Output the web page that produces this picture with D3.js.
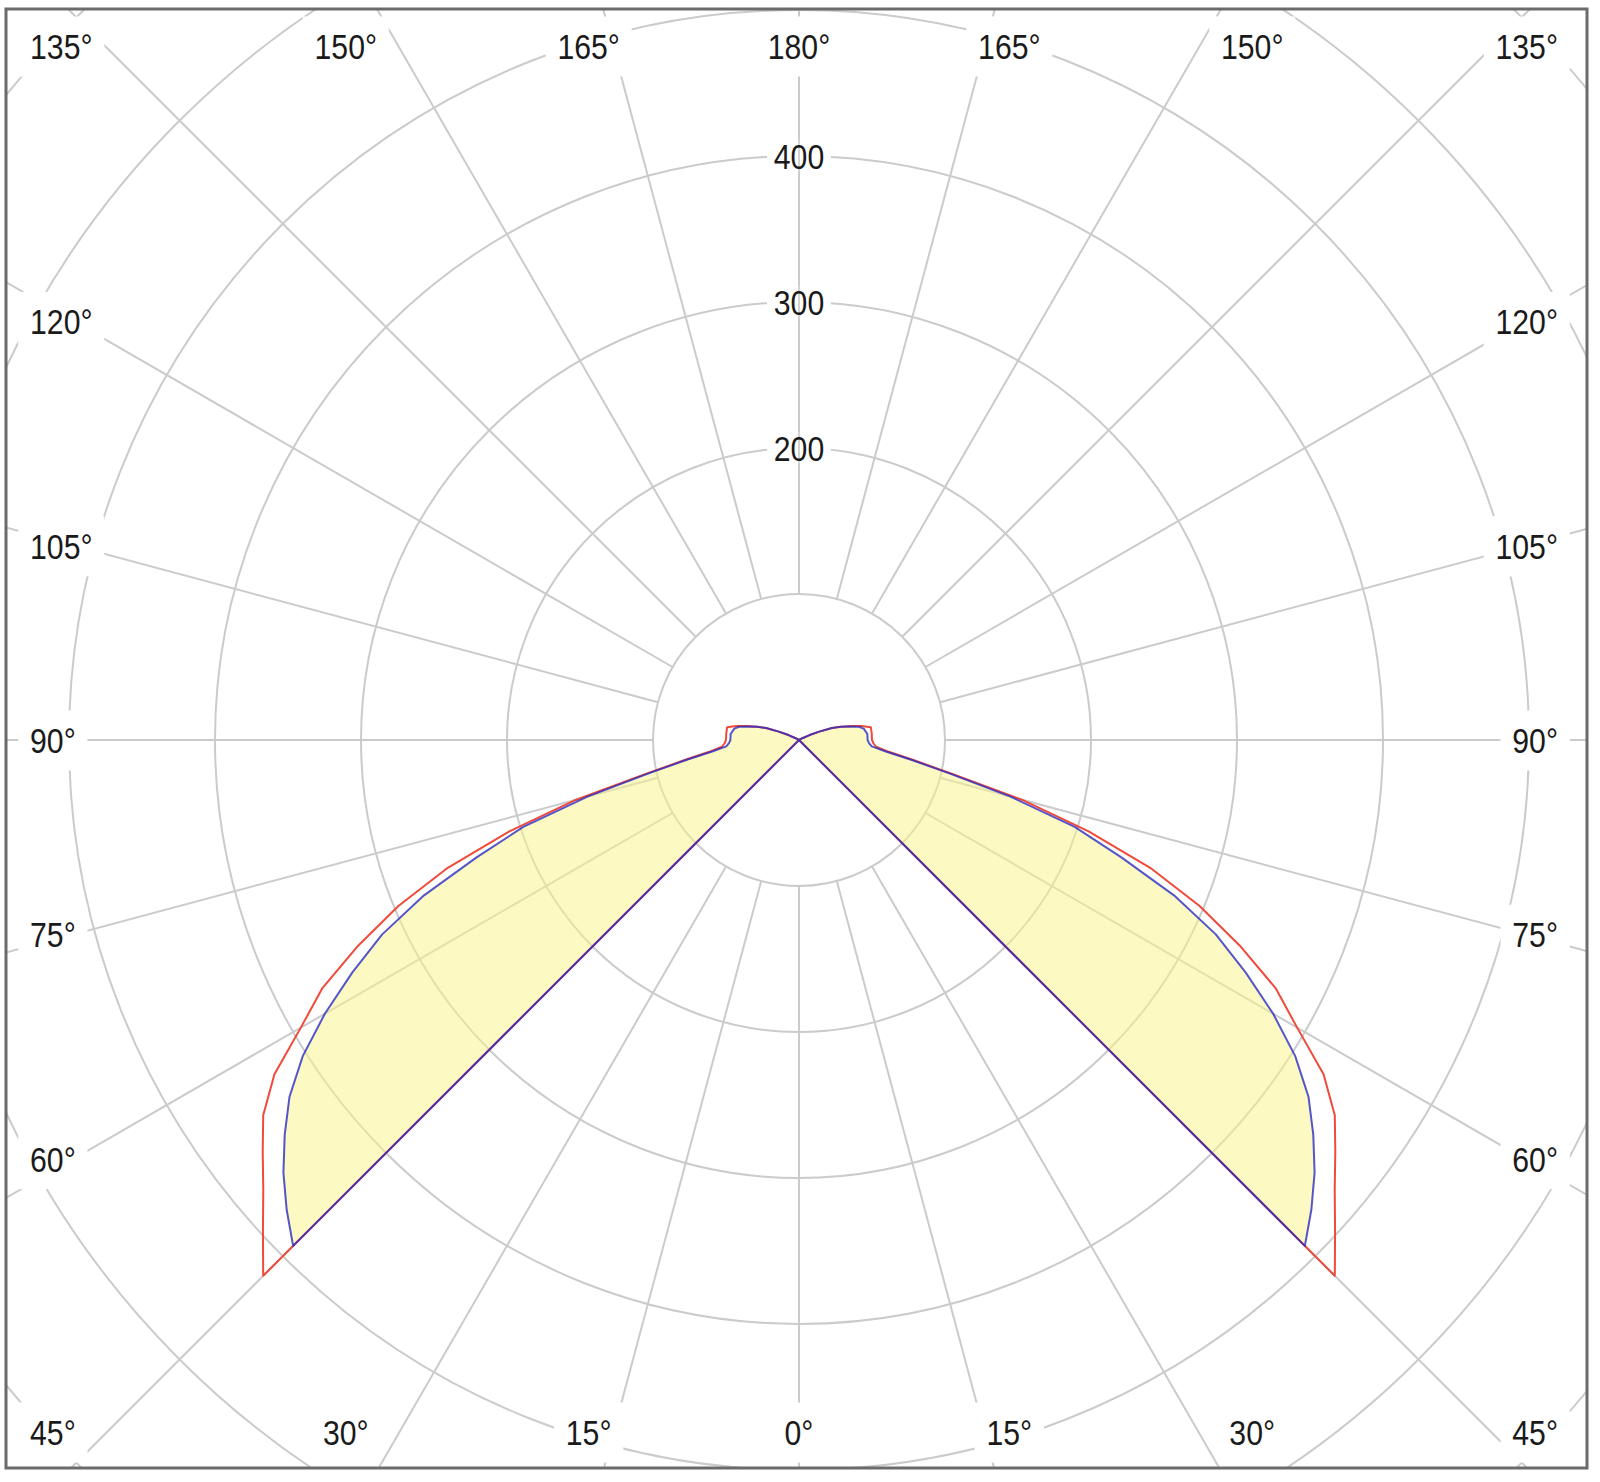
<!DOCTYPE html>
<html>
<head>
<meta charset="utf-8">
<script src="https://cdn.jsdelivr.net/npm/d3@7"></script>
<style>
  body { margin: 0; background: #fff; }
  svg { display: block; }
  text { font-family: "Liberation Sans", Arial, sans-serif; fill: #1a1a1a; }
</style>
</head>
<body>
<div id="chart"></div>
<script>
// gamma angles (deg, 0 = straight down) and intensities
var gammaAngles = [0, 15, 30, 40, 45, 47.5, 50, 52.5, 55, 57.5, 60, 62.5, 65, 67.5, 70, 72.5, 75, 77.5, 80, 82.5, 85, 87.5, 90, 95, 100, 102.5, 105, 107.5, 110, 112.5, 115, 117.5, 120, 135, 150, 165, 180];
var redValues = [0, 0, 0, 0, 519, 498, 479, 463, 448, 426, 394, 368, 333, 297, 256, 208, 158, 108, 80, 62, 53, 51, 50, 50, 50, 44, 37, 30, 24, 15, 8, 3, 0, 0, 0, 0, 0];
var blueValues = [0, 0, 0, 0, 490, 476, 461, 444, 426, 403, 375, 345, 315, 278, 235, 198, 150, 105, 78, 60, 50, 48, 47, 47, 45, 42, 36, 30, 24, 15, 8, 3, 0, 0, 0, 0, 0];

var ringValues = [100, 200, 300, 400, 500, 600, 700];
var ringLabels = [200, 300, 400];
var spokeAngles = d3.range(0, 360, 15);
var degreeLabels = [0, 15, 30, 45, 60, 75, 90, 105, 120, 135, 150, 165, 180];

var width = 1600, height = 1482;
var cx = 799, cy = 740;
var frame = {x: 6, y: 9, w: 1581, h: 1459};

var r = d3.scaleLinear().domain([0, 100]).range([0, 146]);

var svg = d3.select('#chart')
  .append('svg')
  .attr('width', width)
  .attr('height', height);

svg.append('rect')
  .attr('width', width)
  .attr('height', height)
  .attr('fill', '#fff');

svg.append('clipPath')
  .attr('id', 'frameclip')
  .append('rect')
  .attr('x', frame.x)
  .attr('y', frame.y)
  .attr('width', frame.w)
  .attr('height', frame.h);

var plot = svg.append('g').attr('clip-path', 'url(#frameclip)');
var g = plot.append('g').attr('transform', 'translate(' + cx + ',' + cy + ')');

// rings and spokes
g.selectAll('.ring')
  .data(ringValues)
  .enter()
  .append('circle')
  .attr('class', 'ring')
  .attr('r', function(d){ return r(d) })
  .attr('fill', 'none')
  .attr('stroke', '#cbcbcb')
  .attr('stroke-width', 2);

g.selectAll('.spoke')
  .data(spokeAngles)
  .enter()
  .append('line')
  .attr('class', 'spoke')
  .attr('x1', function(d){ return r(100) * Math.sin(d * Math.PI / 180) })
  .attr('y1', function(d){ return r(100) * Math.cos(d * Math.PI / 180) })
  .attr('x2', function(d){ return r(800) * Math.sin(d * Math.PI / 180) })
  .attr('y2', function(d){ return r(800) * Math.cos(d * Math.PI / 180) })
  .attr('stroke', '#cbcbcb')
  .attr('stroke-width', 2);

// one closed curve: right half gamma 0..180, then left half 180..0
function curvePoints(values){
  var pts = [];
  gammaAngles.forEach(function(a, i){ pts.push([Math.PI - a * Math.PI / 180, r(values[i])]) });
  for (var i = gammaAngles.length - 1; i >= 0; i--) {
    pts.push([Math.PI + gammaAngles[i] * Math.PI / 180, r(values[i])]);
  }
  return pts;
}

var radial = d3.lineRadial()
  .angle(function(d){ return d[0] })
  .radius(function(d){ return d[1] });

g.append('path')
  .datum(curvePoints(blueValues))
  .attr('d', radial)
  .attr('fill', '#faf48c')
  .attr('fill-opacity', 0.52)
  .attr('stroke', 'none');

// ring value labels on the vertical axis
var rl = g.selectAll('.rlabel')
  .data(ringLabels)
  .enter()
  .append('g')
  .attr('class', 'rlabel')
  .attr('transform', function(d){ return 'translate(0,' + (-r(d)) + ') scale(0.84,1)' });
rl.append('rect')
  .attr('x', -38)
  .attr('y', -16)
  .attr('width', 76)
  .attr('height', 32)
  .attr('fill', '#fff');
rl.append('line')
  .attr('y1', -17)
  .attr('y2', 17)
  .attr('stroke', '#cbcbcb')
  .attr('stroke-width', 2);
rl.append('text')
  .attr('text-anchor', 'middle')
  .attr('dy', '0.36em')
  .style('font-size', '36px')
  .text(function(d){ return d });

// angle labels pushed out along each spoke, then held inside the frame
var labelData = [];
degreeLabels.forEach(function(a){
  var sides = (a === 0 || a === 180) ? [1] : [-1, 1];
  sides.forEach(function(s){
    var sx = s * Math.sin(a * Math.PI / 180), sy = Math.cos(a * Math.PI / 180);
    var tSide = Math.abs(sx) > 1e-6 ? 725 / Math.abs(sx) : Infinity;
    var tEnd = Math.abs(sy) > 1e-6 ? 785 / Math.abs(sy) : Infinity;
    var d = {text: a + '°'};
    if (tSide <= tEnd) {
      d.x = s < 0 ? 30 : 1558;
      d.y = Math.max(46, Math.min(1432, cy + tSide * sy));
      d.anchor = s < 0 ? 'start' : 'end';
    } else {
      d.x = cx + tEnd * sx;
      d.y = sy < 0 ? 46 : 1432;
      d.anchor = 'middle';
    }
    labelData.push(d);
  });
});

var dl = plot.selectAll('.dlabel')
  .data(labelData)
  .enter()
  .append('g')
  .attr('class', 'dlabel')
  .attr('transform', function(d){ return 'translate(' + d.x + ',' + d.y + ') scale(0.84,1)' });
dl.append('text')
  .attr('text-anchor', function(d){ return d.anchor })
  .attr('dy', '0.36em')
  .style('font-size', '36px')
  .text(function(d){ return d.text });
dl.each(function(){
  var b = d3.select(this).select('text').node().getBBox();
  d3.select(this).insert('rect', 'text')
    .attr('x', b.x - 14)
    .attr('y', b.y - 10)
    .attr('width', b.width + 28)
    .attr('height', b.height + 20)
    .attr('fill', '#fff');
});

// intensity curves
g.append('path')
  .datum(curvePoints(redValues))
  .attr('d', radial)
  .attr('fill', 'none')
  .attr('stroke', '#ef4a3a')
  .attr('stroke-width', 2)
  .attr('stroke-linejoin', 'round');

g.append('path')
  .datum(curvePoints(blueValues))
  .attr('d', radial)
  .attr('fill', 'none')
  .attr('stroke', '#2a2ac4')
  .attr('stroke-opacity', 0.8)
  .attr('stroke-width', 2)
  .attr('stroke-linejoin', 'round');

// frame
svg.append('rect')
  .attr('x', frame.x)
  .attr('y', frame.y)
  .attr('width', frame.w)
  .attr('height', frame.h)
  .attr('fill', 'none')
  .attr('stroke', '#6b6b6b')
  .attr('stroke-width', 3);
</script>
</body>
</html>
